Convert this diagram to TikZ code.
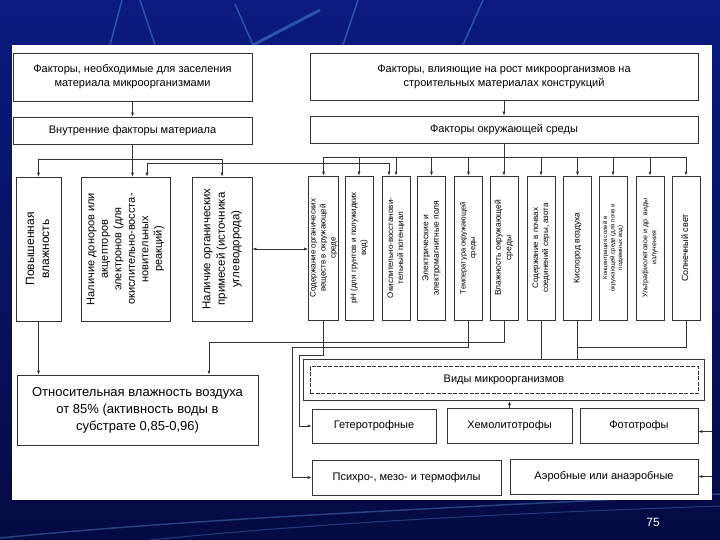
\documentclass[tikz,border=0pt]{standalone}
\usepackage{fontspec}
\setmainfont{Liberation Sans}
\usepackage{graphicx}
\usetikzlibrary{arrows.meta,fit}
\definecolor{slidebg}{RGB}{10,26,128}
\definecolor{slidedark}{RGB}{4,10,66}
\definecolor{streak}{RGB}{90,150,225}
\newcommand{\vtext}[2][\fontsize{8}{10}\selectfont]{\rotatebox{90}{#1\begin{tabular}{@{}c@{}}#2\end{tabular}}}
\begin{document}
\begin{tikzpicture}[x=1pt,y=-1pt,
  box/.style={draw=black!80,line width=0.6pt,fill=white,inner sep=1pt,align=center,
    font=\fontsize{11}{14}\selectfont},
  vbox/.style={box,minimum width=28pt,minimum height=144pt,inner sep=0pt},
  lbox/.style={box,minimum height=144pt,inner sep=0pt},
  line/.style={draw=black!80,line width=0.6pt},
  ar/.style={-{Latex[length=4pt,width=3pt]}},
  arar/.style={{Latex[length=4pt,width=3pt]}-{Latex[length=4pt,width=3pt]}}]
   \useasboundingbox (0,0) rectangle (720,540);
   \shade[top color=slidebg,bottom color=slidedark] (0,0) rectangle (720,540);
   \foreach \a/\b/\c/\d in {110/45/122/0, 155/45/140/0, 253/45/235/4, 343/45/358/0, 463/45/483/0}
     \draw[streak,line width=1.5pt,opacity=.45] (\a,\b) -- (\c,\d);
   \draw[streak,line width=3pt,opacity=.45] (253,45) -- (320,10);
   \draw[streak,line width=1.5pt,opacity=.4] (0,538) .. controls (200,518) and (450,508) .. (720,494);
   \draw[streak,line width=1pt,opacity=.35] (150,540) .. controls (350,520) and (550,512) .. (720,506);
   \fill[white] (12,45) rectangle (712,500);
   \node[box,minimum width=239pt,minimum height=48pt] (need) at (132.5,77)
     {Факторы, необходимые для заселения\\материала микроорганизмами};
   \node[box,minimum width=239pt,minimum height=27pt] (inner) at (132.5,130.5)
     {Внутренние факторы материала};
   \node[box,minimum width=388pt,minimum height=47pt] (growth) at (504,76.5)
     {Факторы, влияющие на рост микроорганизмов на\\строительных материалах конструкций};
   \node[box,minimum width=388pt,minimum height=27pt] (env) at (504,129.5)
     {Факторы окружающей среды};
   \node[lbox,minimum width=45pt] (humid) at (38.5,249)
     {\vtext[\fontsize{12}{15}\selectfont]{Повышенная\\влажность}};
   \node[lbox,minimum width=89pt] (donor) at (125.5,249)
     {\vtext[\fontsize{11}{13.5}\selectfont]{Наличие доноров или\\акцепторов\\электронов (для\\окислительно-восста-\\новительных\\реакций)}};
   \node[lbox,minimum width=60pt] (organic) at (222,249)
     {\vtext[\fontsize{11.5}{14.5}\selectfont]{Наличие органических\\примесей (источника\\углеводорода)}};
   \foreach \nm/\xx/\fs/\bs/\txt in {
      A/323.5/8/10/{Содержание органических\\веществ в окружающей\\среде},
      B/359/8/10/{pH (для грунтов и полужидких\\вод)},
      C/396/8/10/{Окислительно-восстанови-\\тельный потенциал},
      D/431.5/8.5/10.5/{Электрические и\\электромагнитные поля},
      E/468.5/7.5/9.5/{Температура окружающей\\среды},
      F/504/8.5/10.5/{Влажность окружающей\\среды},
      G/541/8/10/{Содержание в почвах\\соединений серы, азота},
      H/577.5/8.5/10/{Кислород воздуха},
      I/613/6/7.5/{Концентрация солей в\\окружающей среде (для почв и\\подземных вод)},
      J/650/7/9/{Ультрафиолетовое и др. виды\\излучения},
      K/686/9/11/{Солнечный свет}}
     \node[vbox] (\nm) at (\xx,248) {\vtext[\fontsize{\fs}{\bs}\selectfont]{\txt}};
   \node[box,minimum width=241pt,minimum height=70pt,font=\fontsize{13}{17}\selectfont] (rh) at (137.5,410)
     {Относительная влажность воздуха\\от 85\% (активность воды в\\субстрате 0,85-0,96)};
   \node[box,dashed,dash pattern=on 4pt off 1.5pt,line width=0.5pt,minimum width=388pt,minimum height=27pt] (vidy) at (504,380)
     {Виды микроорганизмов};
   \node[line,fit=(vidy),inner xsep=6pt,inner ysep=7pt] (vidyout) {};
   \node[box,minimum width=124pt,minimum height=34pt] (het) at (374,426) {Гетеротрофные};
   \node[box,minimum width=125pt,minimum height=35pt] (chemo) at (509.5,425.5) {Хемолитотрофы};
   \node[box,minimum width=118pt,minimum height=35pt] (photo) at (639,425.5) {Фототрофы};
   \node[box,minimum width=189pt,minimum height=35pt] (psy) at (406.5,477.5) {Психро-, мезо- и термофилы};
   \node[box,minimum width=188pt,minimum height=35pt] (aero) at (604,476.5) {Аэробные или анаэробные};
   \node[text=white,font=\fontsize{12}{14}\selectfont] (pnum) at (653,522) {75};
   \draw[line,ar] (need) -- (inner);
   \draw[line,ar] (inner.south) -- (inner.south |- donor.north);
   \coordinate (lbus) at (0,159);
   \draw[line] (lbus -| humid.north) -- (lbus -| organic.north);
   \draw[line,ar] (lbus -| humid.north) -- (humid.north);
   \draw[line,ar] (lbus -| organic.north) -- (organic.north);
   \draw[line,ar] (growth) -- (env);
   \coordinate (rbus) at (0,157);
   \draw[line] (env.south) -- (env.south |- rbus);
   \draw[line] (rbus -| A.north) -- (rbus -| K.north);
   \foreach \nm in {A,B,C,D,E,F,G,H,I,J,K}
     \draw[line,ar] (rbus -| \nm.north) -- (\nm.north);
   \draw[line,arar] ([xshift=21.5pt]donor.north) -- ++(0,-13) -| ([xshift=-7pt]C.north);
   \draw[line,arar] (organic.east) -- (organic.east -| A.west);
   \draw[line,ar] (humid.south) -- (humid.south |- rh.north);
   \draw[line,ar] (F.south) -- ++(0,22) -| ([xshift=71.5pt]rh.north);
   \draw[line,ar] (E.south) -- ++(0,27) -| ([xshift=-19pt]psy.west) -- (psy.west);
   \draw[line,ar] (A.south) -- ++(0,35) -| ([xshift=-12pt]het.west) -- (het.west);
   \draw[line] (G.south) -- (G.south |- vidyout.north);
   \draw[line] (H.south) -- (H.south |- vidyout.north);
   \draw[line] (K.south) |- ([yshift=-27pt]H.south);
   \draw[line,ar] (chemo.north) -- (chemo.north |- vidyout.south);
   \draw[line,ar] ([xshift=14pt,yshift=-6pt]photo.east) -- ([yshift=-6pt]photo.east);
   \draw[line,ar] ([xshift=14pt]aero.east) -- (aero.east);
\end{tikzpicture}
\end{document}
